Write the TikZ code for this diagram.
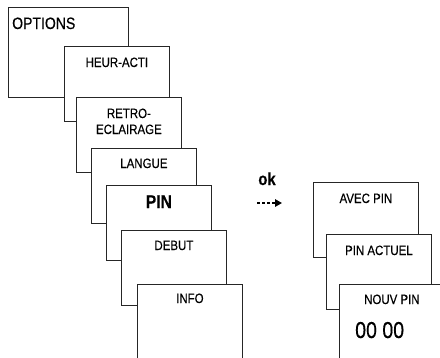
\documentclass[tikz,border=0pt]{standalone}
\usepackage{fontspec}
\setmainfont{Liberation Sans}[FakeStretch=0.85, FakeBold=0.3]
\usetikzlibrary{arrows.meta}
\begin{document}
\begin{tikzpicture}[x=1pt, y=-1pt,
   menu/.style={draw=black!85, line width=0.8pt, fill=white, anchor=north west,
                minimum width=105pt, minimum height=75pt, inner sep=0pt},
   txt/.style={anchor=base, inner sep=0pt, font=\fontsize{13.5}{14}\selectfont},
   big/.style={anchor=base, inner sep=0pt, font=\fontsize{18.5}{20}\selectfont\bfseries}]
\useasboundingbox (0,0) rectangle (440,357);
\clip (0,0) rectangle (440,357);
% menu stack
\node[menu, minimum width=120pt, minimum height=90pt] (options) at (8,7) {};
\node[anchor=base west, inner sep=0pt, font=\fontsize{16.5}{17}\selectfont] (t-options) at (12,29) {OPTIONS};
\node[menu] (heur) at (64,46) {};
\node[txt] (t-heur) at ([yshift=-21pt]heur.north) {HEUR-ACTI};
\node[menu] (retro) at (76,97) {};
\node[txt, align=center] (t-retro) at ([yshift=-37pt]retro.north) {RETRO-\\[2pt]ECLAIRAGE};
\node[menu] (langue) at (91,148) {};
\node[txt] (t-langue) at ([yshift=-20pt]langue.north) {LANGUE};
\node[menu] (pin) at (106,185) {};
\node[big] (t-pin) at ([yshift=-23pt]pin.north) {PIN};
\node[menu] (debut) at (121,230) {};
\node[txt] (t-debut) at ([yshift=-20pt]debut.north) {DEBUT};
\node[menu] (info) at (137,284) {};
\node[txt] (t-info) at ([yshift=-19pt]info.north) {INFO};
% ok
\node[anchor=base, inner sep=0pt, font=\fontsize{17.5}{18}\selectfont\bfseries] (ok) at (267,185) {ok};
\coordinate (arr-a) at (257,203);
\coordinate (arr-b) at (282,203);
\draw[line width=1.5pt, dash pattern=on 3pt off 2pt, -{Triangle[length=7pt,width=7.5pt]}] (arr-a) -- (arr-b);
% pin stack
\node[menu] (avec) at (313,182) {};
\node[txt] (t-avec) at ([yshift=-21pt]avec.north) {AVEC PIN};
\node[menu] (actuel) at (326,234) {};
\node[txt] (t-actuel) at ([yshift=-21pt]actuel.north) {PIN ACTUEL};
\node[menu] (nouv) at (339,284) {};
\node[txt] (t-nouv) at ([yshift=-20pt]nouv.north) {NOUV PIN};
\node[anchor=base west, inner sep=0pt, font=\fontsize{23}{24}\selectfont] (code) at (355,338) {00 00};
\end{tikzpicture}
\end{document}
